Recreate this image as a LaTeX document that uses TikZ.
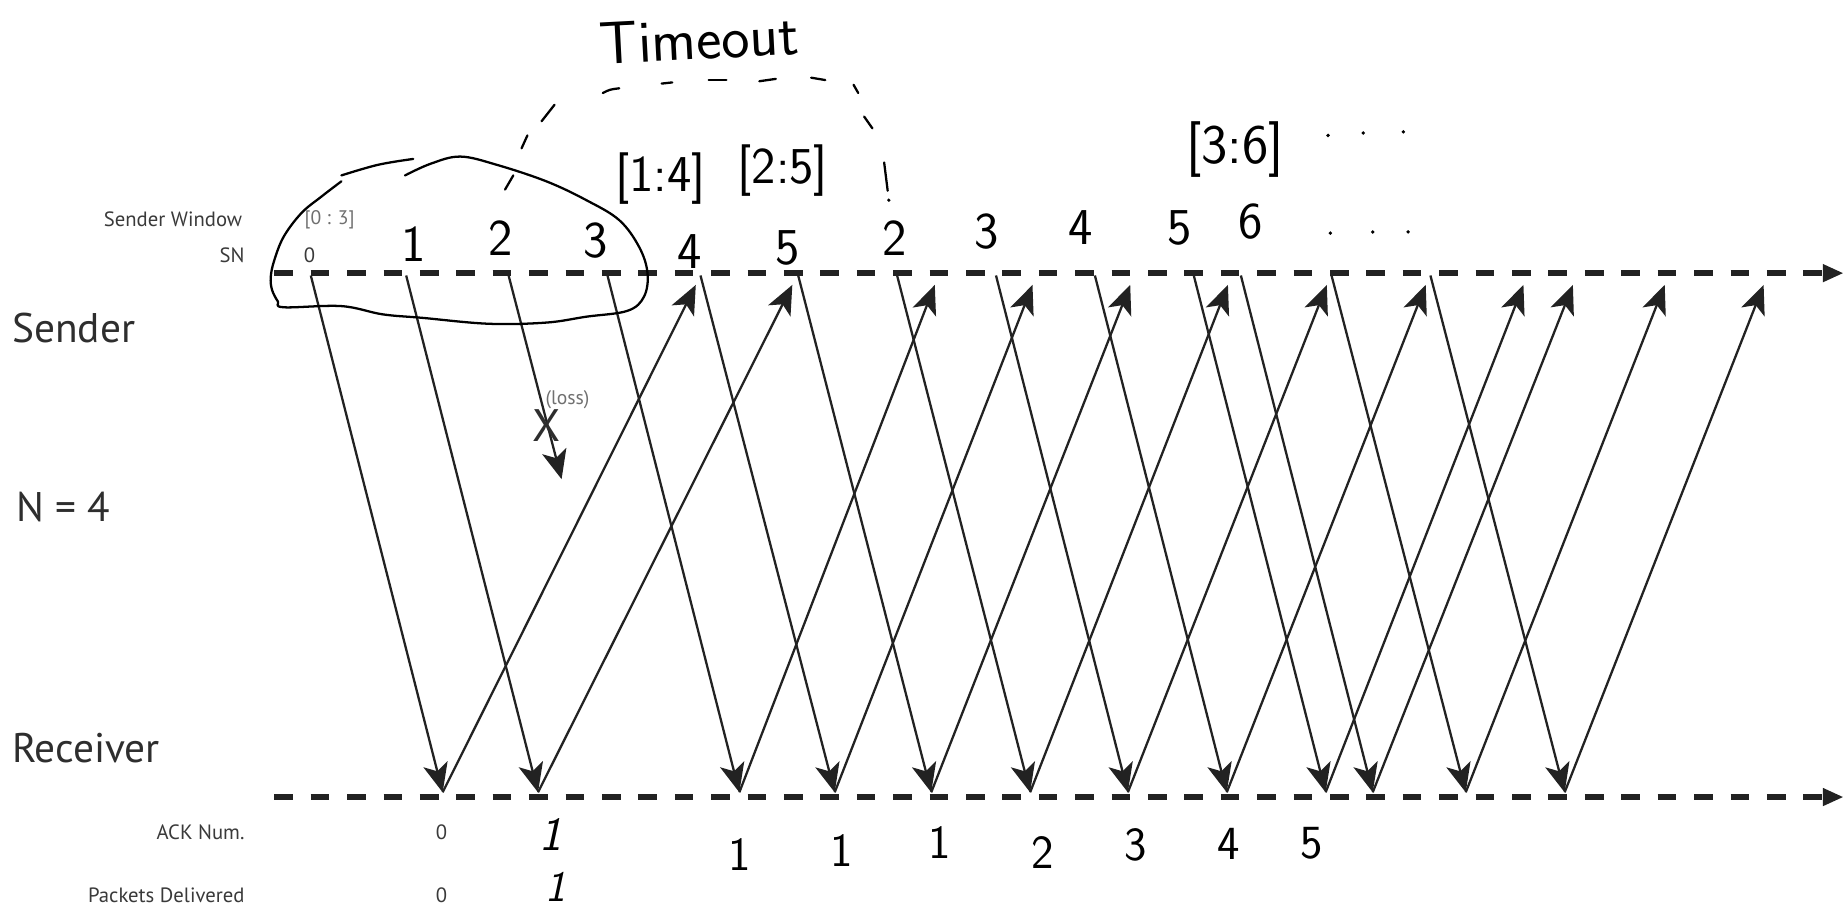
\documentclass[tikz,border=0pt]{standalone}
\usepackage{fontspec}
\newfontfamily\pf{PT Sans}
\usetikzlibrary{arrows.meta}
\definecolor{ink}{HTML}{222222}
\definecolor{lbl}{HTML}{3A3A3A}
\definecolor{lite}{HTML}{707070}
\definecolor{bigc}{HTML}{2E2E2E}
\tikzset{
  msg/.style={draw=ink, line width=1.1pt, -{Stealth[length=14pt,width=12pt,inset=3.5pt]}},
  axisline/.style={draw=ink, line width=3.1pt, dash pattern=on 9pt off 8.6pt, -{Triangle[length=10pt,width=8pt]}},
  lab/.style={font=\pf\fontsize{10}{12}\selectfont, text=lbl, inner sep=0pt},
  litelab/.style={font=\pf\fontsize{9.5}{12}\selectfont, text=lite, inner sep=0pt},
  biglab/.style={font=\pf\fontsize{20}{24}\selectfont, text=bigc, inner sep=0pt},
  hw/.style={font=\sffamily\fontsize{25}{30}\selectfont, text=black, inner sep=0pt},
  hwack/.style={font=\sffamily\fontsize{23}{28}\selectfont, text=black, inner sep=0pt},
  pen/.style={draw=black, line width=1.1pt, line cap=round, line join=round},
}
\begin{document}
\begin{tikzpicture}[x=0.02cm, y=-0.02cm]
\useasboundingbox (0,0) rectangle (1568,774);
\fill[white] (0,0) rectangle (1568,774);

% time lines
\coordinate (sL) at (233,232);
\coordinate (sR) at (1566,232);
\coordinate (rL) at (233,677);
\coordinate (rR) at (1566,677);
\draw[axisline] (sL) -- (sR);
\draw[axisline] (rL) -- (rR);

% printed labels
\node[lab, anchor=base east] (swin) at (206,192) {Sender Window};
\node[lab, anchor=base east] (sn) at (208,223) {SN};
\node[litelab, anchor=base] (w03) at (280,191) {[0 : 3]};
\node[lab, anchor=base] (sn0) at (263,223) {0};
\node[biglab, anchor=base west] (sender) at (10,291) {Sender};
\node[biglab, anchor=base west] (nfour) at (14,443) {N = 4};
\node[biglab, anchor=base west] (receiver) at (10,648) {Receiver};
\node[lab, anchor=base east] (ackn) at (208,713) {ACK Num.};
\node[lab, anchor=base east] (pdel) at (208,767) {Packets Delivered};
\node[lab, anchor=base] (ack0) at (375,713) {0};
\node[lab, anchor=base] (pd0) at (375,767) {0};

% data packets and ACKs
\foreach \n/\xs/\xe/\xa in {0/264/376/591, 1/345/457/673, 3/516/628/794,
  4/595/709/877, 5/678/791/960, 6/762/875/1043, 7/846/958/1127,
  8/930/1042/1211, 9/1014/1126/1294, 10/1054/1166/1336,
  11/1131/1245/1414, 12/1215/1329/1498} {
  \coordinate (s\n) at (\xs,234);
  \coordinate (r\n) at (\xe,673);
  \coordinate (k\n) at (\xa,242);
  \draw[msg] (s\n) -- (r\n);
  \draw[msg] (r\n) -- (k\n);
}
% lost packet
\coordinate (s2) at (432,234);
\coordinate (l2) at (477,407);
\draw[msg] (s2) -- (l2);
\node[font=\pf\fontsize{22}{24}\selectfont, text=bigc, inner sep=0pt, anchor=base] (lossx) at (464,375) {X};
\node[litelab, anchor=base] (loss) at (482,344) {(loss)};

% handwritten window blob
\draw[pen] plot[smooth, tension=0.6] coordinates {(344,149) (366,139) (391,133) (422,140) (464,154) (498,170) (526,187) (543,210) (550,232) (547,252) (533,264) (498,269) (464,274) (415,275) (359,270) (325,267) (290,260) (241,261) (236,256) (231,246) (230,235) (233,221) (241,201) (256,181) (273,167) (290,154)};
\draw[pen] plot[smooth, tension=0.6] coordinates {(290,149) (321,140) (351,135)};

% timeout arc
\draw[pen] (429,161) -- (436,149);
\draw[pen] (443,126) -- (448,115);
\draw[pen] (460,103) -- (471,89);
\draw[pen] (512,79) .. controls (518,76) .. (526,75);
\draw[pen] (562,71) -- (571,70);
\draw[pen] (602,68) -- (617,68);
\draw[pen] (645,69) -- (659,67);
\draw[pen] (689,66) -- (701,68);
\draw[pen] (725,72) -- (729,79);
\draw[pen] (734,99) -- (741,109);
\draw[pen] (751,138) -- (754,162);
\fill (755,170) circle (1.5);
\node[hw, font=\sffamily\fontsize{29}{32}\selectfont, rotate=3] (timeout) at (594,33) {Timeout};

% handwritten window bounds
\node[hw] (w14) at (561,152) {[1:4]};
\node[hw] (w25) at (665,145) {[2:5]};
\node[hw, font=\sffamily\fontsize{27}{30}\selectfont] (w36) at (1049,127) {[3:6]};
\foreach \x/\y in {1128/115, 1158/113, 1192/112, 1130/198, 1166/197, 1196/197}
  \fill (\x,\y) circle (1.6);

% handwritten sequence numbers
\foreach \t/\x/\y [count=\i] in {1/351/207, 2/425/202, 3/506/204, 4/586/214, 5/669/211,
  2/760/202, 3/838/197, 4/918/193, 5/1002/194, 6/1062/188} {
  \node[hw] (hsn\i) at (\x,\y) {\t};
}

% handwritten ACK numbers
\node[hwack, font=\sffamily\itshape\fontsize{23}{28}\selectfont] (hack1) at (468,709) {1};
\foreach \t/\x/\y [count=\i from 2] in {1/628/726, 1/715/722, 1/798/716, 2/886/724,
  3/965/718, 4/1044/717, 5/1114/716} {
  \node[hwack] (hack\i) at (\x,\y) {\t};
}
\node[hwack, font=\sffamily\itshape\fontsize{21}{26}\selectfont] (hpd1) at (472,753) {1};
\end{tikzpicture}
\end{document}
